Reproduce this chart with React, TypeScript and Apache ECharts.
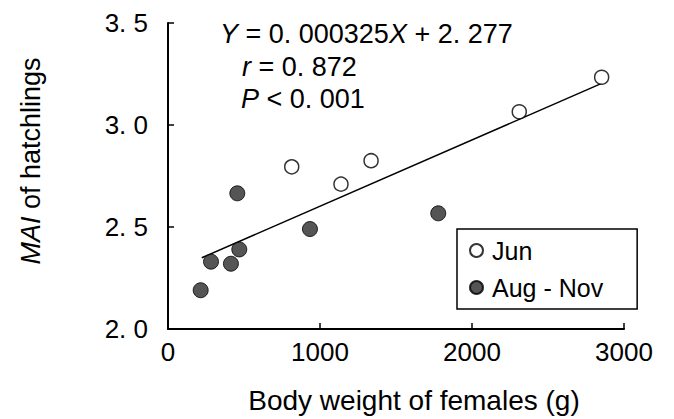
import React, { useEffect, useRef } from "react";
import * as echarts from "echarts";

// Jun (open circles): [body weight (g), MAI]
const junData: [number, number][] = [
  [814, 2.795],
  [1138, 2.71],
  [1336, 2.825],
  [2311, 3.065],
  [2853, 3.234],
];

// Aug - Nov (filled circles)
const augNovData: [number, number][] = [
  [215, 2.19],
  [283, 2.33],
  [414, 2.32],
  [456, 2.665],
  [469, 2.39],
  [934, 2.49],
  [1778, 2.567],
];

// Regression line endpoints (Y = 0.000325X + 2.277)
const regressionLine: [number, number][] = [
  [222, 2.349],
  [2853, 3.204],
];

const seriesNames = ["Jun", "Aug - Nov"];
const xTicks = { min: 0, max: 3000, interval: 1000 };
const yTicks = { min: 2.0, max: 3.5, interval: 0.5 };

const FONT = "Liberation Sans, Arial, sans-serif";

export default function App() {
  const ref = useRef<HTMLDivElement>(null);

  useEffect(() => {
    if (!ref.current) return;
    const chart = echarts.init(ref.current, undefined, { renderer: "svg" });
    const italic = { fontStyle: "italic", fontSize: 27, fontFamily: FONT, color: "#000" };
    const italicT = { fontStyle: "italic", fontSize: 27, fontFamily: FONT, fill: "#000" };
    chart.setOption({
      animation: false,
      backgroundColor: "#fff",
      textStyle: { fontFamily: FONT, color: "#000" },
      grid: { left: 168, right: 50, top: 23, bottom: 90 },
      xAxis: {
        type: "value",
        min: xTicks.min,
        max: xTicks.max,
        interval: xTicks.interval,
        name: "Body weight of females (g)",
        nameLocation: "middle",
        nameGap: 57,
        nameTextStyle: { fontSize: 28, fontFamily: FONT, color: "#000", padding: [0, 0, 0, 36] },
        axisLine: { show: true, lineStyle: { color: "#000", width: 2 } },
        axisTick: { show: true, inside: true, length: 6, lineStyle: { color: "#000", width: 1.5 } },
        axisLabel: {
          fontSize: 26,
          margin: 10,
          color: "#000",
          fontFamily: FONT,
          formatter: (v: number) => String(v),
        },
        splitLine: { show: false },
      },
      yAxis: {
        type: "value",
        min: yTicks.min,
        max: yTicks.max,
        interval: yTicks.interval,
        name: "{i|MAI} of hatchlings",
        nameLocation: "middle",
        nameGap: 124,
        nameTextStyle: {
          fontSize: 27,
          fontFamily: FONT,
          color: "#000",
          padding: [0, 0, 0, 30],
          rich: { i: italic },
        },
        axisLine: { show: true, lineStyle: { color: "#000", width: 2 } },
        axisTick: { show: true, inside: true, length: 6, lineStyle: { color: "#000", width: 1.5 } },
        axisLabel: {
          fontSize: 26,
          margin: 20,
          color: "#000",
          fontFamily: FONT,
          formatter: (v: number) => v.toFixed(1).replace(".", ". "),
        },
        splitLine: { show: false },
      },
      legend: {
        data: seriesNames,
        orient: "vertical",
        left: 457,
        top: 229,
        padding: [8, 34, 8, 12],
        itemGap: 10,
        itemWidth: 13,
        itemHeight: 13,
        borderColor: "#000",
        borderWidth: 1.5,
        borderRadius: 0,
        backgroundColor: "#fff",
        textStyle: { fontSize: 25, fontFamily: FONT, color: "#000", lineHeight: 27, padding: [0, 0, 0, 4] },
      },
      graphic: [
        {
          type: "text",
          left: 220,
          top: 20,
          style: {
            text: "{i|Y} = 0. 000325{i|X} + 2. 277",
            fontSize: 27,
            fontFamily: FONT,
            fill: "#000",
            rich: { i: italicT },
          },
        },
        {
          type: "text",
          left: 242,
          top: 53,
          style: {
            text: "{i|r} = 0. 872",
            fontSize: 27,
            fontFamily: FONT,
            fill: "#000",
            rich: { i: italicT },
          },
        },
        {
          type: "text",
          left: 241,
          top: 85,
          style: {
            text: "{i|P} < 0. 001",
            fontSize: 27,
            fontFamily: FONT,
            fill: "#000",
            rich: { i: italicT },
          },
        },
      ],
      series: [
        {
          name: "regression",
          type: "line",
          data: regressionLine,
          symbol: "none",
          lineStyle: { color: "#000", width: 1.5 },
          silent: true,
          z: 1,
        },
        {
          name: seriesNames[0],
          type: "scatter",
          data: junData,
          symbol: "circle",
          symbolSize: 14,
          itemStyle: { color: "#fff", borderColor: "#000", borderWidth: 1.5 },
          z: 3,
        },
        {
          name: seriesNames[1],
          type: "scatter",
          data: augNovData,
          symbol: "circle",
          symbolSize: 15,
          itemStyle: { color: "#2b2b2b", borderColor: "#000", borderWidth: 1 },
          z: 3,
        },
      ],
    });
    return () => chart.dispose();
  }, []);

  return <div ref={ref} style={{ width: 674, height: 419, position: "absolute", left: 0, top: 0 }} />;
}
